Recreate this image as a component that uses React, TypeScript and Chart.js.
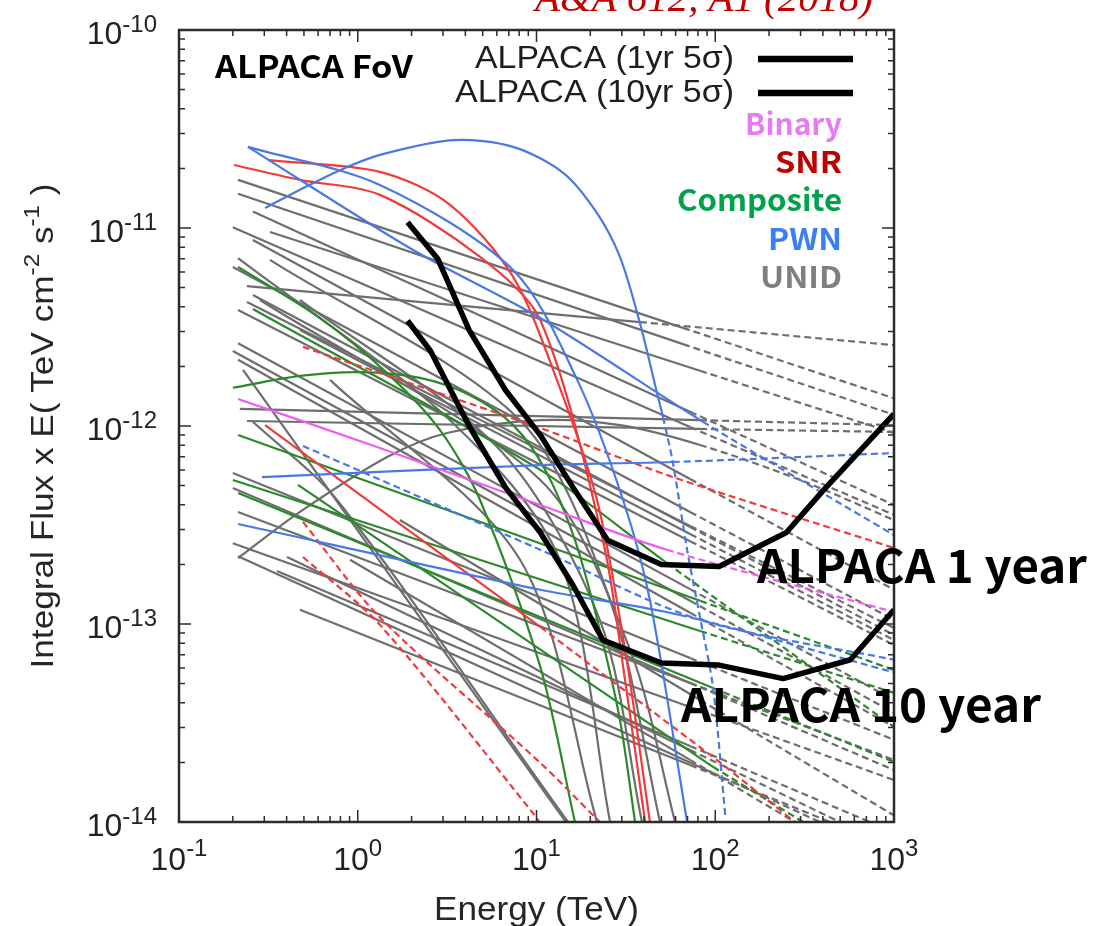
import { useEffect, useRef } from "react";
import { Chart, registerables } from "chart.js";

Chart.register(...registerables);

// ---------- axes ----------
const energyMin = 0.1;
const energyMax = 1000;
const fluxMin = 1e-14;
const fluxMax = 1e-10;
const xTickValues = [0.1, 1, 10, 100, 1000];
const xTickExponents = ["-1", "0", "1", "2", "3"];
const yTickValues = [1e-10, 1e-11, 1e-12, 1e-13, 1e-14];
const yTickExponents = ["-10", "-11", "-12", "-13", "-14"];

// ---------- ALPACA sensitivity ----------
const alpaca1yrE = [1.9, 2.8, 4.2, 6.7, 10.5, 16, 25, 50, 105, 250, 400, 1000];
const alpaca1yrF = [1.07e-11, 7.0e-12, 3.05e-12, 1.52e-12, 9.0e-13, 4.9e-13, 2.65e-13, 2.0e-13, 1.95e-13, 2.9e-13, 4.7e-13, 1.15e-12];
const alpaca10yrE = [1.9, 2.55, 4.2, 6.7, 10.5, 16, 23.5, 50, 105, 240, 570, 1000];
const alpaca10yrF = [3.4e-12, 2.4e-12, 1.0e-12, 4.9e-13, 2.9e-13, 1.57e-13, 8.3e-14, 6.35e-14, 6.2e-14, 5.3e-14, 6.6e-14, 1.18e-13];

type Line = { e: number[]; f: number[]; dashFrom?: number; smooth?: boolean };

// ---------- sources (energy TeV, integral flux x E) ----------
const binaryLines: Line[] = [
  { e: [0.214, 1.33, 10.5, 53.7, 1000], f: [1.37e-12, 7.74e-13, 3.99e-13, 2.37e-13, 1.15e-13], dashFrom: 53.7, smooth: true },
];

const snrLines: Line[] = [
  { e: [0.315, 1.33, 3.28, 7.4, 13.0, 21.8, 31.3, 43.1], f: [2.2e-11, 1.92e-11, 1.31e-11, 5.66e-12, 1.71e-12, 4.23e-13, 7.4e-14, 1.0e-14], smooth: true },
  { e: [0.203, 0.475, 1.33, 4.83, 10.5, 23.5, 31.3, 40.5], f: [2.08e-11, 1.75e-11, 1.47e-11, 7.14e-12, 3.43e-12, 2.66e-13, 5.2e-14, 1.0e-14], smooth: true },
  { e: [0.303, 10.5, 102, 279], f: [1.01e-12, 9.66e-14, 2.06e-14, 1.0e-14], dashFrom: 10.5 },
  { e: [0.494, 10.5, 58, 1000], f: [2.51e-12, 9.77e-13, 5.52e-13, 2.42e-13], dashFrom: 0.494, smooth: true },
  { e: [0.494, 1.33, 10.5, 22.6], f: [3.28e-13, 1.08e-13, 1.99e-14, 1.0e-14], dashFrom: 0.494, smooth: true },
  { e: [0.494, 1.33, 9.55, 11.2], f: [2.18e-13, 9.9e-14, 1.11e-14, 9.1e-15], dashFrom: 0.494, smooth: true },
];

const compositeLines: Line[] = [
  { e: [0.214, 0.615, 1.46, 2.88, 4.83, 10.5, 16.4], f: [6.35e-12, 3.51e-12, 1.85e-12, 9.55e-13, 4.23e-13, 6.07e-14, 1.0e-14], smooth: true },
  { e: [0.259, 10.5, 53.7, 1000], f: [3.9e-12, 6.0e-13, 2.03e-13, 3.02e-14], dashFrom: 53.7, smooth: true },
  { e: [0.2, 0.475, 1.03, 2.23, 4.25, 7.4, 11.2, 16.4, 22.6, 29.3, 35.6], f: [1.56e-12, 1.79e-12, 1.87e-12, 1.75e-12, 1.43e-12, 1.01e-12, 6.0e-13, 2.66e-13, 9.33e-14, 3.27e-14, 1.0e-14], smooth: true },
  { e: [0.214, 82.2, 1000], f: [9.0e-13, 1.31e-13, 5.86e-14], dashFrom: 82.2 },
  { e: [0.2, 82.2, 1000], f: [5.34e-13, 9.22e-14, 4.49e-14], dashFrom: 82.2 },
  { e: [0.214, 97.1, 1000], f: [4.59e-13, 4.75e-14, 2.01e-14], dashFrom: 97.1 },
  { e: [0.463, 97.1, 310], f: [5.04e-13, 1.9e-14, 1.0e-14], dashFrom: 97.1 },
];

const pwnLines: Line[] = [
  { e: [0.303, 0.475, 0.796, 1.33, 3.41, 7.4, 14.1, 21.8, 29.3, 37.9, 47.2, 51.0, 58.0, 69.6, 82.2, 97.1, 114], f: [1.26e-11, 1.56e-11, 1.96e-11, 2.34e-11, 2.78e-11, 2.57e-11, 1.9e-11, 1.19e-11, 7.14e-12, 3.31e-12, 1.47e-12, 1.11e-12, 6.5e-13, 2.37e-13, 1.08e-13, 4.8e-14, 1.06e-14], dashFrom: 51.0, smooth: true },
  { e: [0.243, 2.04, 10.5, 85.4, 1000], f: [2.57e-11, 7.74e-12, 3.51e-12, 1.05e-12, 2.81e-13], dashFrom: 85.4, smooth: true },
  { e: [0.243, 1.33, 7.4, 16.9, 30.5, 43.1, 69.6], f: [2.57e-11, 1.65e-11, 6.14e-12, 1.71e-12, 4.23e-13, 1.32e-13, 1.0e-14], smooth: true },
  { e: [0.291, 10.5, 58, 1000], f: [5.52e-13, 6.35e-13, 6.58e-13, 7.3e-13], dashFrom: 58, smooth: true },
  { e: [0.494, 10.5, 82.2, 1000], f: [7.93e-13, 2.37e-13, 1.05e-13, 6.6e-14], dashFrom: 0.494, smooth: true },
  { e: [0.214, 10.5, 63.5, 1000], f: [3.2e-13, 1.49e-13, 1.11e-13, 5.7e-14], dashFrom: 63.5, smooth: true },
];

const unidLines: Line[] = [
  { e: [0.24, 37.9, 1000], f: [5.09e-12, 3.35e-12, 2.56e-12], dashFrom: 37.9 },
  { e: [0.214, 66, 1000], f: [1.75e-11, 3.13e-12, 1.38e-12], dashFrom: 66 },
  { e: [0.214, 66, 1000], f: [1.49e-11, 2.59e-12, 1.14e-12], dashFrom: 66 },
  { e: [0.259, 72.3, 1000], f: [1.21e-11, 1.18e-12, 3.99e-13], dashFrom: 72.3 },
  { e: [0.2, 72.3, 1000], f: [1.01e-11, 9.88e-13, 3.56e-13], dashFrom: 72.3 },
  { e: [0.323, 82.2, 1000], f: [9.55e-12, 1.9e-12, 9.22e-13], dashFrom: 82.2 },
  { e: [0.219, 82.2, 1000], f: [1.22e-12, 1.07e-12, 1.01e-12], dashFrom: 82.2 },
  { e: [0.24, 82.2, 1000], f: [1.06e-12, 9.66e-13, 9.33e-13], dashFrom: 82.2 },
  { e: [0.259, 72.3, 1000], f: [8.69e-12, 5.4e-13, 1.49e-13], dashFrom: 72.3 },
  { e: [0.2, 72.3, 1000], f: [6.35e-12, 3.68e-13, 1.05e-13], dashFrom: 72.3 },
  { e: [0.24, 72.3, 1000], f: [4.23e-12, 3.13e-13, 9.55e-14], dashFrom: 72.3 },
  { e: [0.214, 72.3, 1000], f: [3.85e-12, 2.62e-13, 7.83e-14], dashFrom: 72.3 },
  { e: [0.259, 72.3, 1000], f: [4.59e-12, 3.09e-13, 8.8e-14], dashFrom: 72.3 },
  { e: [0.214, 72.3, 1000], f: [2.62e-12, 1.5e-13, 4.13e-14], dashFrom: 72.3 },
  { e: [0.2, 72.3, 1000], f: [2.39e-12, 1.31e-13, 3.56e-14], dashFrom: 72.3 },
  { e: [0.214, 72.3, 1000], f: [2.16e-12, 1.14e-13, 3.02e-14], dashFrom: 72.3 },
  { e: [0.2, 72.3, 1000], f: [5.79e-13, 6.73e-14, 2.6e-14], dashFrom: 72.3 },
  { e: [0.2, 72.3, 1000], f: [4.86e-13, 5.04e-14, 1.83e-14], dashFrom: 72.3 },
  { e: [0.2, 72.3, 1000], f: [2.56e-13, 3.81e-14, 1.63e-14], dashFrom: 72.3 },
  { e: [0.214, 72.3, 1000], f: [3.68e-13, 5.04e-14, 2.06e-14], dashFrom: 72.3 },
  { e: [0.353, 72.3, 735], f: [1.85e-13, 2.42e-14, 1.0e-14], dashFrom: 72.3 },
  { e: [0.402, 72.3, 499], f: [2.18e-13, 2.31e-14, 1.0e-14], dashFrom: 72.3 },
  { e: [0.214, 0.475, 1.46, 3.16, 10.5, 29.3, 82.2, 298, 1000], f: [2.15e-13, 3.68e-13, 6.97e-13, 9.22e-13, 1.07e-12, 1.01e-12, 8.02e-13, 5.34e-13, 3.35e-13], dashFrom: 82.2, smooth: true },
  { e: [0.228, 14.6], f: [1.92e-12, 1.0e-14] },
  { e: [0.259, 0.766, 10.5, 15.0], f: [1.05e-12, 4.23e-13, 1.57e-14, 1.0e-14], smooth: true },
  { e: [0.214, 3.28, 13.5, 25.8], f: [7.05e-12, 1.07e-12, 2.11e-13, 1.0e-14], smooth: true },
  { e: [0.475, 6.25, 22.6, 38.9], f: [4.33e-12, 7.57e-13, 1.05e-13, 1.0e-14], smooth: true },
  { e: [0.323, 8.09, 25.8, 49.1], f: [6.9e-12, 1.07e-12, 1.32e-13, 1.0e-14], smooth: true },
  { e: [0.284, 10.5, 33.4, 59.6], f: [4.33e-12, 5.34e-13, 7.4e-14, 1.0e-14], smooth: true },
  { e: [0.7, 8.09, 21.8], f: [1.71e-12, 2.11e-13, 1.0e-14], smooth: true },
  { e: [0.214, 97.1, 385], f: [2.2e-13, 1.77e-14, 1.0e-14], dashFrom: 97.1 },
  { e: [0.475, 72.3, 439], f: [1.18e-13, 1.94e-14, 1.0e-14], dashFrom: 72.3 },
  { e: [0.905, 72.3, 279], f: [2.11e-13, 2.06e-14, 1.0e-14], dashFrom: 72.3 },
  { e: [1.72, 82.2, 1000], f: [3.35e-13, 4.13e-14, 1.08e-14], dashFrom: 82.2 },
  { e: [0.475, 72.3, 1000], f: [3.05e-12, 2.85e-13, 8.3e-14], dashFrom: 72.3 },
];

// ---------- legend ----------
const sensitivityLabels = ["ALPACA (1yr 5σ)", "ALPACA (10yr 5σ)"];
const classLabels = ["Binary", "SNR", "Composite", "PWN", "UNID"];
const classLabelColors = ["#e57cf2", "#c00000", "#00a24c", "#3a7ff5", "#7f7f7f"];
const classLabelWidths = [97, 67, 165, 74, 82];

const LINE_COLORS = {
  unid: "#6e6e6e",
  snr: "#ef3b3b",
  composite: "#2a8a2a",
  pwn: "#4a78e4",
  binary: "#f05cf0",
};

const SANS = '"Liberation Sans", Arial, Helvetica, sans-serif';
const JP = '"Noto Sans CJK JP", "Noto Sans", sans-serif';
const SERIF = '"Liberation Serif", "Times New Roman", serif';

function makeDataset(line: Line, color: string, width: number): any {
  const data = line.e.map((e, i) => ({ x: e, y: line.f[i] }));
  const dashIdx = line.dashFrom === undefined ? -1 : line.e.indexOf(line.dashFrom);
  const ds: any = {
    data,
    borderColor: color,
    borderWidth: width,
    pointRadius: 0,
    pointHoverRadius: 0,
    fill: false,
    tension: line.smooth ? 0.3 : 0,
    borderJoinStyle: "round",
  };
  if (dashIdx >= 0) {
    ds.segment = {
      borderDash: (ctx: any) => (ctx.p0DataIndex >= dashIdx ? [7, 4] : []),
    };
  }
  return ds;
}

function fitText(ctx: any, text: string, x: number, y: number, font: string, width: number, align: string) {
  ctx.font = font;
  const w = ctx.measureText(text).width;
  const s = width / w;
  const left = align === "left" ? x : align === "right" ? x - width : x - width / 2;
  ctx.save();
  ctx.translate(left, y);
  ctx.scale(s, 1);
  ctx.textAlign = "left";
  ctx.textBaseline = "alphabetic";
  ctx.fillText(text, 0, 0);
  ctx.restore();
}

const overlayPlugin = {
  id: "overlay",
  afterDraw(chart: any) {
    const { ctx, chartArea: a } = chart;
    const xs = chart.scales.x;
    const ys = chart.scales.y;
    ctx.save();

    // minor / major ticks on all four sides (inward)
    ctx.strokeStyle = "#2b2b2b";
    ctx.lineWidth = 1.5;
    ctx.beginPath();
    for (let d = -1; d <= 3; d++) {
      for (let m = 1; m <= 9; m++) {
        const v = m * Math.pow(10, d);
        if (v > energyMax * 1.001) break;
        const p = xs.getPixelForValue(v);
        const len = m === 1 ? 12 : 6;
        ctx.moveTo(p, a.bottom);
        ctx.lineTo(p, a.bottom - len);
        ctx.moveTo(p, a.top);
        ctx.lineTo(p, a.top + len);
      }
    }
    for (let d = -14; d <= -10; d++) {
      for (let m = 1; m <= 9; m++) {
        const v = m * Math.pow(10, d);
        if (v > fluxMax * 1.001) break;
        const p = ys.getPixelForValue(v);
        const len = m === 1 ? 12 : 6;
        ctx.moveTo(a.left, p);
        ctx.lineTo(a.left + len, p);
        ctx.moveTo(a.right, p);
        ctx.lineTo(a.right - len, p);
      }
    }
    ctx.stroke();
    ctx.lineWidth = 2.5;
    ctx.strokeRect(a.left, a.top, a.right - a.left, a.bottom - a.top);

    // tick labels
    ctx.fillStyle = "#222";
    ctx.textAlign = "left";
    ctx.textBaseline = "alphabetic";
    const mainFont = `32px ${SANS}`;
    const supFont = `24px ${SANS}`;
    xTickValues.forEach((v, i) => {
      const p = xs.getPixelForValue(v);
      ctx.font = mainFont;
      const wb = ctx.measureText("10").width;
      ctx.font = supFont;
      const we = ctx.measureText(xTickExponents[i]).width;
      const left = p - (wb + we) / 2;
      ctx.font = mainFont;
      ctx.fillText("10", left, 870);
      ctx.font = supFont;
      ctx.fillText(xTickExponents[i], left + wb, 856);
    });
    yTickValues.forEach((v, i) => {
      const p = ys.getPixelForValue(v);
      ctx.font = mainFont;
      const wb = ctx.measureText("10").width;
      ctx.font = supFont;
      const we = ctx.measureText(yTickExponents[i]).width;
      const left = 157 - (wb + we);
      ctx.font = mainFont;
      ctx.fillText("10", left, p + 14);
      ctx.font = supFont;
      ctx.fillText(yTickExponents[i], left + wb, p + 2);
    });

    // x title
    ctx.fillStyle = "#262626";
    fitText(ctx, "Energy (TeV)", (a.left + a.right) / 2, 920, `34px ${SANS}`, 205, "center");

    // y title (rotated, with superscripts)
    const parts = [
      { t: "Integral Flux x E( TeV cm", sup: false },
      { t: "-2", sup: true },
      { t: " s", sup: false },
      { t: "-1", sup: true },
      { t: " )", sup: false },
    ];
    const yMain = `32px ${SANS}`;
    const ySup = `22px ${SANS}`;
    let total = 0;
    const widths = parts.map((p) => {
      ctx.font = p.sup ? ySup : yMain;
      const w = ctx.measureText(p.t).width;
      total += w;
      return w;
    });
    ctx.save();
    ctx.translate(53, 426);
    ctx.rotate(-Math.PI / 2);
    ctx.scale(485 / total, 1);
    let cx = -total / 2;
    parts.forEach((p, i) => {
      ctx.font = p.sup ? ySup : yMain;
      ctx.fillText(p.t, cx, p.sup ? -14 : 0);
      cx += widths[i];
    });
    ctx.restore();

    // in-plot labels
    ctx.fillStyle = "#000";
    fitText(ctx, "ALPACA FoV", 215, 78, `bold 31px ${JP}`, 198, "left");

    ctx.fillStyle = "#1e1e1e";
    fitText(ctx, sensitivityLabels[0], 734, 68, `32px ${SANS}`, 259, "right");
    fitText(ctx, sensitivityLabels[1], 734, 102, `32px ${SANS}`, 279, "right");
    ctx.strokeStyle = "#000";
    ctx.lineWidth = 6.5;
    ctx.beginPath();
    ctx.moveTo(758, 59);
    ctx.lineTo(853, 59);
    ctx.moveTo(758, 93);
    ctx.lineTo(853, 93);
    ctx.stroke();

    classLabels.forEach((lab, i) => {
      ctx.fillStyle = classLabelColors[i];
      fitText(ctx, lab, 842, 135 + i * 38.2, `bold 30px ${JP}`, classLabelWidths[i], "right");
    });

    ctx.fillStyle = "#000";
    fitText(ctx, "ALPACA 1 year", 757, 583, `bold 46px ${JP}`, 330, "left");
    fitText(ctx, "ALPACA 10 year", 681, 722, `bold 46px ${JP}`, 360, "left");

    // citation (cut at the top of the page)
    ctx.fillStyle = "#c00000";
    fitText(ctx, "A&A 612, A1 (2018)", 535, 11, `italic 40px ${SERIF}`, 338, "left");

    ctx.restore();
  },
};

export default function App() {
  const ref = useRef<HTMLCanvasElement | null>(null);

  useEffect(() => {
    if (!ref.current) return;
    const datasets: any[] = [];
    datasets.push(makeDataset({ e: alpaca10yrE, f: alpaca10yrF }, "#000", 5.5));
    datasets.push(makeDataset({ e: alpaca1yrE, f: alpaca1yrF }, "#000", 5.5));
    binaryLines.forEach((l) => datasets.push(makeDataset(l, LINE_COLORS.binary, 2.2)));
    pwnLines.forEach((l) => datasets.push(makeDataset(l, LINE_COLORS.pwn, 2.2)));
    snrLines.forEach((l) => datasets.push(makeDataset(l, LINE_COLORS.snr, 2.2)));
    compositeLines.forEach((l) => datasets.push(makeDataset(l, LINE_COLORS.composite, 2.2)));
    unidLines.forEach((l) => datasets.push(makeDataset(l, LINE_COLORS.unid, 2.2)));

    const chart = new Chart(ref.current, {
      type: "line",
      data: { datasets },
      options: {
        animation: false,
        responsive: false,
        devicePixelRatio: 1,
        layout: { padding: { left: 179, right: 199, top: 30, bottom: 104 } },
        scales: {
          x: { type: "logarithmic", min: energyMin, max: energyMax, display: false },
          y: { type: "logarithmic", min: fluxMin, max: fluxMax, display: false },
        },
        plugins: { legend: { display: false }, tooltip: { enabled: false }, title: { display: false } },
        elements: { point: { radius: 0 } },
      } as any,
      plugins: [overlayPlugin],
    } as any);
    return () => chart.destroy();
  }, []);

  return (
    <div style={{ position: "fixed", left: 0, top: 0, width: 1093, height: 926, background: "#fff" }}>
      <canvas ref={ref} width={1093} height={926} style={{ display: "block", width: 1093, height: 926 }} />
    </div>
  );
}
